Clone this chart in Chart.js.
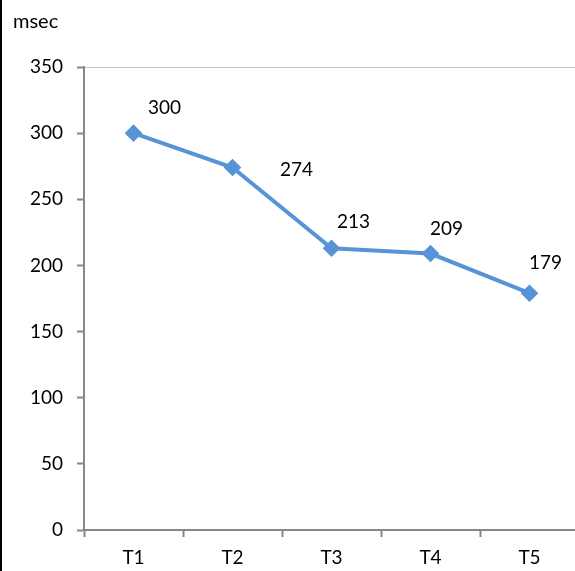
<!DOCTYPE html>
<html>
<head>
<meta charset="utf-8">
<script src="https://cdn.jsdelivr.net/npm/chart.js@4/dist/chart.umd.min.js"></script>
<style>
    html, body { margin: 0; padding: 0; background: #fff; overflow: hidden; }
    #wrap { position: relative; width: 575px; height: 571px; overflow: hidden; }
    #edge { position: absolute; left: 0; top: 0; width: 2px; height: 571px; background: #000; z-index: 2; }
    canvas { position: absolute; left: 0; top: 0; }
</style>
</head>
<body>
<div id="wrap">
    <div id="edge"></div>
    <canvas id="tiempos" width="589" height="571"></canvas>
</div>
<script>
const etiquetas = ["T1", "T2", "T3", "T4", "T5"];
const tiempos = [300, 274, 213, 209, 179];
const marcasY = [0, 50, 100, 150, 200, 250, 300, 350];

// label offsets from each point (px), like Excel placed them
const desplaz = [[31, -25], [64, 2], [22, -26], [16, -25], [16, -30]];

const fuente = "Lato, 'DejaVu Sans', sans-serif";
const gris = "#878787";

const valores = {
    id: "valores",
    afterDatasetsDraw(chart) {
        const ctx = chart.ctx;
        const meta = chart.getDatasetMeta(0);
        ctx.save();
        ctx.font = "19px " + fuente;
        ctx.fillStyle = "#000";
        ctx.textAlign = "center";
        ctx.textBaseline = "middle";
        meta.data.forEach((pt, i) => {
            ctx.fillText(String(tiempos[i]), pt.x + desplaz[i][0], pt.y + desplaz[i][1]);
        });
        // unit text top-left
        ctx.font = "20px " + fuente;
        ctx.textAlign = "left";
        ctx.fillText("msec", 13, 22);
        ctx.restore();
    }
};

const graf = new Chart(document.getElementById("tiempos"), {
    type: "line",
    data: {
        labels: etiquetas,
        datasets: [
            {
                data: tiempos,
                borderColor: "rgb(86, 148, 215)",
                backgroundColor: "rgb(86, 148, 215)",
                borderWidth: 4,
                pointStyle: "rectRot",
                pointRadius: 6,
                pointHoverRadius: 6,
                tension: 0,
            },
        ],
    },
    options: {
        responsive: false,
        animation: false,
        layout: { padding: { top: 67, right: 1, left: 0, bottom: 0 } },
        plugins: {
            legend: { display: false },
            tooltip: { enabled: false },
        },
        scales: {
            x: {
                offset: true,
                grid: {
                    offset: true,
                    color: "transparent",
                    tickColor: gris,
                    tickLength: 7,
                    tickWidth: 2,
                },
                border: { color: gris, width: 2 },
                ticks: {
                    color: "#000",
                    padding: 9,
                    font: { family: fuente, size: 19 },
                },
                afterFit: (s) => { s.height = 41; },
            },
            y: {
                min: 0,
                max: 350,
                afterBuildTicks: (s) => { s.ticks = marcasY.map((v) => ({ value: v })); },
                grid: {
                    color: (c) => (c.tick && c.tick.value === 350 ? "#c6c6c6" : "transparent"),
                    tickColor: gris,
                    tickLength: 7,
                    tickWidth: 2,
                },
                border: { color: gris, width: 2 },
                ticks: {
                    color: "#000",
                    padding: 14,
                    font: { family: fuente, size: 19 },
                },
                afterFit: (s) => { s.width = 84; },
            },
        },
    },
    plugins: [valores],
});
</script>
</body>
</html>
